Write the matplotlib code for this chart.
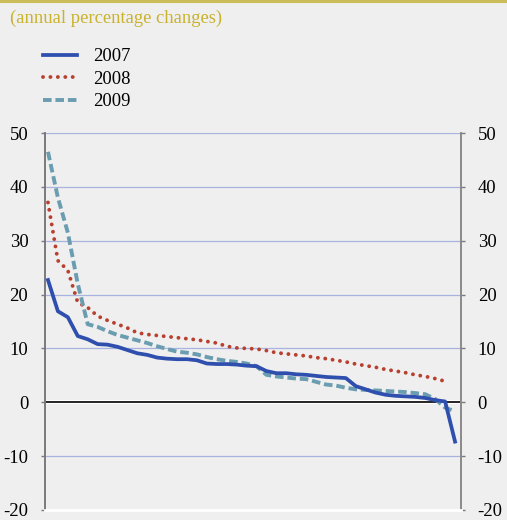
import matplotlib
matplotlib.use("Agg")
import matplotlib.pyplot as plt
from matplotlib.lines import Line2D
import numpy as np

plt.rcParams['font.family'] = ['Liberation Serif', 'DejaVu Serif']

title = "(annual percentage changes)"
labels = ["2007", "2008", "2009"]
y_ticks = [-20, -10, 0, 10, 20, 30, 40, 50]

s2007 = [22.7, 16.9, 15.8, 12.3, 11.7, 10.8, 10.7, 10.3, 9.7, 9.1,
         8.8, 8.3, 8.1, 8.0, 8.0, 7.8, 7.2, 7.1, 7.1, 7.0,
         6.8, 6.7, 5.8, 5.4, 5.4, 5.2, 5.1, 4.9, 4.7, 4.6,
         4.5, 3.0, 2.4, 1.8, 1.4, 1.2, 1.1, 1.0, 0.8, 0.4,
         0.15, -7.3]
s2008 = [37.1, 26.3, 24.5, 18.5, 17.6, 16.0, 15.2, 14.5, 13.8, 12.9,
         12.6, 12.4, 12.2, 12.0, 11.8, 11.6, 11.3, 11.0, 10.4, 10.1,
         10.0, 9.9, 9.6, 9.2, 9.0, 8.8, 8.6, 8.3, 8.1, 7.8,
         7.5, 7.1, 6.8, 6.5, 6.1, 5.8, 5.5, 5.1, 4.8, 4.4,
         3.9]
s2009 = [46.5, 38.0, 31.5, 22.0, 14.5, 14.0, 13.2, 12.5, 12.0, 11.5,
         11.0, 10.4, 9.9, 9.4, 9.2, 8.9, 8.4, 8.0, 7.7, 7.5,
         7.2, 6.7, 5.1, 4.8, 4.6, 4.4, 4.3, 3.8, 3.3, 3.1,
         2.7, 2.4, 2.3, 2.2, 2.1, 2.0, 1.9, 1.7, 1.5, 0.6,
         -1.0, -1.7]

W, H = 507, 520
bg = '#efefef'
fs = 13.4
fig = plt.figure(figsize=(W/100, H/100), dpi=100, facecolor=bg)

left, right, top, bottom = 45, 461, 133, 510
ax = fig.add_axes([left/W, 1-bottom/H, (right-left)/W, (bottom-top)/H], facecolor=bg)

ax.set_ylim(-20, 50)
ax.set_xlim(-0.3, 41.6)
ax.set_yticks(y_ticks)
ax.set_yticklabels([str(t) for t in y_ticks])
ax.set_xticks([])

for t in y_ticks:
    if t not in (0, -20):
        ax.axhline(t, color='#a8b3df', lw=0.9, zorder=1)
ax.axhline(0, color='white', lw=3.0, zorder=1.5)
ax.axhline(0, color='black', lw=1.2, zorder=2)

c07, c08, c09 = '#2f4fae', '#b8402f', '#6b9db0'
x07 = np.arange(len(s2007))
x08 = np.arange(len(s2008))
x09 = np.arange(len(s2009))
l08, = ax.plot(x08, s2008, color=c08, lw=2.8, linestyle=(0, (0.01, 1.9)),
               dash_capstyle='round', zorder=3)
l09, = ax.plot(x09, s2009, color=c09, lw=2.8, linestyle=(0, (2.2, 1.0)),
               dash_capstyle='butt', zorder=4)
l07, = ax.plot(x07, s2007, color=c07, lw=2.7, solid_joinstyle='round', zorder=5)

ax.spines['top'].set_visible(False)
ax.spines['left'].set_color('#7a7a7a')
ax.spines['left'].set_linewidth(1.4)
ax.spines['right'].set_color('#8a8a8a')
ax.spines['right'].set_linewidth(1.4)
ax.spines['bottom'].set_color('white')
ax.spines['bottom'].set_linewidth(2.0)

ax.tick_params(axis='y', which='both', left=True, right=True, labelleft=True,
               labelright=True, length=3, width=1, color='#7a7a7a',
               labelsize=fs, pad=9)

fig.add_artist(Line2D([0, 1], [1-1/H, 1-1/H], color='#cbbd5a', lw=2.2,
                      transform=fig.transFigure))
fig.text(10/W, 1-18/H, title, color='#c9b22c', fontsize=fs,
         ha='left', va='center')

leg = fig.legend([l07, l08, l09], labels, loc='upper left',
                 bbox_to_anchor=(43/W, 1-48/H), frameon=False,
                 fontsize=fs, handlelength=1.85, handletextpad=0.85,
                 labelspacing=0.3, borderpad=0, borderaxespad=0)

fig.savefig('out.png', dpi=100, facecolor=bg)
